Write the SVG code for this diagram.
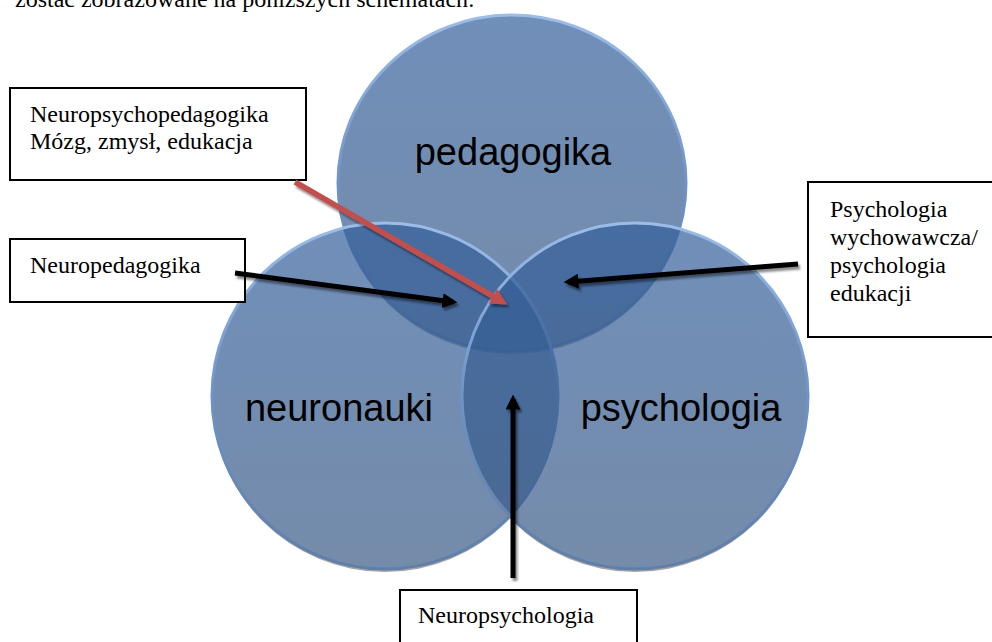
<svg xmlns="http://www.w3.org/2000/svg" width="992" height="642" viewBox="0 0 992 642">
<style>
.box{fill:#fff;stroke:#000;stroke-width:2}
.bt{font-family:"Liberation Serif","Times New Roman",serif;font-size:24px;fill:#000}
.ct{font-family:"Liberation Sans",Arial,sans-serif;font-size:38px;fill:#000;text-anchor:middle}
.circ{fill:url(#fillG);fill-opacity:0.7;stroke:url(#rimG);stroke-width:3}
.shad{fill:#7f7f7f;fill-opacity:0.7}
.ar{stroke:#000;stroke-width:5;fill:none;marker-end:url(#ah)}
.arr{stroke:#C0504D;stroke-width:5.5;fill:none;marker-end:url(#ahr)}
</style>
<defs>
<linearGradient id="fillG" x1="0" y1="0" x2="0" y2="1">
<stop offset="0" stop-color="#335f9b"/>
<stop offset="1" stop-color="#3a5a86"/>
</linearGradient>
<linearGradient id="rimG" x1="0" y1="0" x2="0" y2="1">
<stop offset="0" stop-color="#9cbde8"/>
<stop offset="0.5" stop-color="#6d93c8"/>
<stop offset="1" stop-color="#5f7ea8"/>
</linearGradient>
<marker id="ah" viewBox="0 0 10 10" refX="7" refY="5" markerWidth="3" markerHeight="3" orient="auto" markerUnits="strokeWidth">
<path d="M0,0 L10,5 L0,10 z" fill="#000"/>
</marker>
<marker id="ahr" viewBox="0 0 10 10" refX="7" refY="5" markerWidth="3" markerHeight="3" orient="auto" markerUnits="strokeWidth">
<path d="M0,0 L10,5 L0,10 z" fill="#C0504D"/>
</marker>
<mask id="mP"><rect width="992" height="642" fill="#fff"/><ellipse cx="512" cy="183" rx="174" ry="168" fill="#000"/></mask>
<mask id="mN"><rect width="992" height="642" fill="#fff"/><circle cx="385" cy="396" r="173" fill="#000"/></mask>
<mask id="mS"><rect width="992" height="642" fill="#fff"/><circle cx="635" cy="396" r="173" fill="#000"/></mask>
<filter id="ds" x="-10%" y="-10%" width="130%" height="130%">
<feDropShadow dx="2" dy="3" stdDeviation="1" flood-color="#000" flood-opacity="0.45"/>
</filter>
</defs>
<rect width="992" height="642" fill="#fff"/>
<text class="bt" x="15" y="6.5">zostać zobrazowane na poniższych schematach:</text>

<g id="pedagogika">
<ellipse class="shad" cx="512" cy="186" rx="174" ry="168" mask="url(#mP)"/>
<ellipse class="circ" cx="512" cy="183" rx="174" ry="168"/>
</g>
<g id="neuronauki">
<circle class="shad" cx="385" cy="399" r="173" mask="url(#mN)"/>
<circle class="circ" cx="385" cy="396" r="173"/>
</g>
<g id="psychologia">
<circle class="shad" cx="635" cy="399" r="173" mask="url(#mS)"/>
<circle class="circ" cx="635" cy="396" r="173"/>
</g>
<g id="labels">
<text class="ct" x="513" y="165">pedagogika</text>
<text class="ct" x="339" y="421">neuronauki</text>
<text class="ct" x="681" y="421">psychologia</text>
</g>

<g id="box-neuropsychopedagogika">
<rect class="box" x="10" y="88" width="296" height="92"/>
<text class="bt" x="30" y="122">Neuropsychopedagogika</text>
<text class="bt" x="30" y="149">Mózg, zmysł, edukacja</text>
</g>
<g id="box-neuropedagogika">
<rect class="box" x="10" y="239" width="235" height="63"/>
<text class="bt" x="30" y="273">Neuropedagogika</text>
</g>
<g id="box-psychologia-wychowawcza">
<rect class="box" x="808" y="182" width="200" height="155"/>
<text class="bt" x="830" y="217">Psychologia</text>
<text class="bt" x="830" y="245">wychowawcza/</text>
<text class="bt" x="830" y="273">psychologia</text>
<text class="bt" x="830" y="301">edukacji</text>
</g>
<g id="box-neuropsychologia">
<rect class="box" x="400" y="590" width="237" height="60"/>
<text class="bt" x="418" y="623">Neuropsychologia</text>
</g>

<g id="connectors" filter="url(#ds)">
<line class="arr" x1="295" y1="182" x2="503" y2="302"/>
<line class="ar" x1="235" y1="273" x2="453" y2="302"/>
<line class="ar" x1="798" y1="264" x2="568" y2="282"/>
<line class="ar" x1="513" y1="578" x2="513" y2="399"/>
</g>
</svg>
